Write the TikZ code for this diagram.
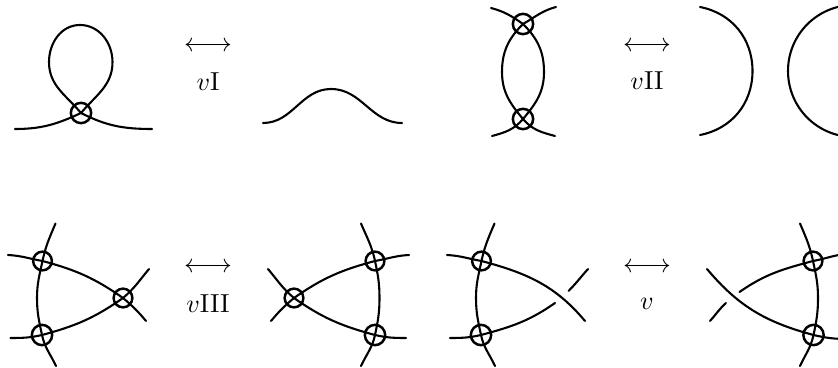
\documentclass[tikz,border=0pt]{standalone}
\tikzset{
    knot/.style={line width=0.8pt,line cap=round},
    vcross/.style={draw,circle,line width=0.95pt,inner sep=0pt,minimum size=7.2pt},
    vcrossbig/.style={vcross,minimum size=7.8pt}
}
\begin{document}
\begin{tikzpicture}[x=0.0135cm,y=-0.0135cm]
    \clip (0,0) rectangle (838,368);
    % top row
    \node [vcrossbig] (loop) at (81,113) {};
    \coordinate (l1) at (15,129);
    \coordinate (l2) at (112.5,62);
    \coordinate (l3) at (80,25);
    \coordinate (l4) at (49,62);
    \coordinate (l5) at (152,129);
    \draw [knot] (l1) to [out=0,in=205] (loop.center) to [out=50,in=-90] (l2) to [out=90,in=0] (l3)
        to [out=180,in=90] (l4) to [out=-90,in=130] (loop.center) to [out=-27,in=180] (l5);
    \coordinate (s1) at (263,123);
    \coordinate (s2) at (331,89);
    \coordinate (s3) at (402,123);
    \draw [knot] (s1) to [out=0,in=180] (s2) to [out=0,in=180] (s3);
    \node (arrowI) at (208,47) {$\longleftrightarrow$};
    \node (labelI) at (208,82) {$v\mathrm{I}$};
    \node [vcrossbig] (top) at (523,24) {};
    \node [vcrossbig] (bottom) at (523,119) {};
    \coordinate (t1) at (491,8);
    \coordinate (t2) at (544,72);
    \coordinate (t3) at (492,136);
    \coordinate (t4) at (556,7);
    \coordinate (t5) at (502,72);
    \coordinate (t6) at (555,136);
    \draw [knot] (t1) to [out=-15,in=145] (top.center) to [out=-45,in=90] (t2) to [out=-90,in=50] (bottom.center) to [out=230,in=15] (t3);
    \draw [knot] (t4) to [out=195,in=30] (top.center) to [out=225,in=90] (t5) to [out=-90,in=130] (bottom.center) to [out=-50,in=165] (t6);
    \node (arrowII) at (647,47) {$\longleftrightarrow$};
    \node (labelII) at (647,81) {$v\mathrm{II}$};
    \coordinate (r1) at (700,7);
    \coordinate (r2) at (752.5,71);
    \coordinate (r3) at (700,135);
    \coordinate (r4) at (854,5);
    \coordinate (r5) at (788,71);
    \coordinate (r6) at (854,137);
    \draw [knot] (r1) to [out=-11,in=90] (r2) to [out=-90,in=11] (r3);
    \draw [knot] (r4) to [out=180,in=90] (r5) to [out=-90,in=180] (r6);
    % bottom row
    \node [vcross] (a1) at (42.5,261) {};
    \node [vcrossbig] (b1) at (42,335) {};
    \node [vcross] (c1) at (123,298) {};
    \coordinate (e1) at (55.5,223.5);
    \coordinate (e2) at (37,298);
    \coordinate (e3) at (56,366);
    \coordinate (e4) at (8,255);
    \coordinate (e5) at (146,321);
    \coordinate (e6) at (10.5,338);
    \coordinate (e7) at (149,269);
    \draw [knot] (e1) to [out=247,in=78] (a1.center) to [out=258,in=90] (e2) to [out=-90,in=102] (b1.center) to [out=-78,in=115] (e3);
    \draw [knot] (e4) to [out=-3,in=170] (a1.center) to [out=-15,in=145] (c1.center) to [out=-40,in=130] (e5);
    \draw [knot] (e6) to [out=0,in=193] (b1.center) to [out=15,in=215] (c1.center) to [out=40,in=230] (e7);
    \node (arrowIII) at (208,268) {$\longleftrightarrow$};
    \node (labelIII) at (208,304) {$v\mathrm{III}$};
    \node [vcross] (c2) at (294,298) {};
    \node [vcross] (a2) at (375,261) {};
    \node [vcrossbig] (b2) at (375,335) {};
    \coordinate (f1) at (361,223.5);
    \coordinate (f2) at (379.5,298);
    \coordinate (f3) at (361,366);
    \coordinate (f4) at (409,255);
    \coordinate (f5) at (271,321);
    \coordinate (f6) at (406,338);
    \coordinate (f7) at (268,269);
    \draw [knot] (f1) to [out=-67,in=102] (a2.center) to [out=-78,in=90] (f2) to [out=-90,in=78] (b2.center) to [out=258,in=65] (f3);
    \draw [knot] (f4) to [out=183,in=10] (a2.center) to [out=195,in=35] (c2.center) to [out=220,in=50] (f5);
    \draw [knot] (f6) to [out=180,in=-13] (b2.center) to [out=165,in=-35] (c2.center) to [out=140,in=-50] (f7);
    \node [vcross] (a3) at (481.5,261) {};
    \node [vcrossbig] (b3) at (481,335) {};
    \coordinate (g1) at (494.5,223.5);
    \coordinate (g2) at (476,298);
    \coordinate (g3) at (495,366);
    \coordinate (g4) at (447,255);
    \coordinate (g5) at (585,321);
    \coordinate (g6) at (450,338);
    \coordinate (g7) at (555,303);
    \coordinate (g8) at (568.5,291);
    \coordinate (g9) at (588,269);
    \draw [knot] (g1) to [out=247,in=78] (a3.center) to [out=258,in=90] (g2) to [out=-90,in=102] (b3.center) to [out=-78,in=115] (g3);
    \draw [knot] (g4) to [out=-3,in=170] (a3.center) to [out=-15,in=130] (g5);
    \draw [knot] (g6) to [out=0,in=193] (b3.center) to [out=15,in=215] (g7);
    \draw [knot] (g8) to [out=45,in=228] (g9);
    \node (arrowv) at (647,268) {$\longleftrightarrow$};
    \node (labelv) at (647,304) {$v$};
    \node [vcross] (a4) at (813,261) {};
    \node [vcrossbig] (b4) at (813.5,335) {};
    \coordinate (h1) at (800,223.5);
    \coordinate (h2) at (818,298);
    \coordinate (h3) at (800,366);
    \coordinate (h4) at (848,254);
    \coordinate (h5) at (739.5,292);
    \coordinate (h6) at (726,303);
    \coordinate (h7) at (710,321);
    \coordinate (h8) at (848,339);
    \coordinate (h9) at (707,269);
    \draw [knot] (h1) to [out=-67,in=102] (a4.center) to [out=-78,in=90] (h2) to [out=-90,in=78] (b4.center) to [out=258,in=65] (h3);
    \draw [knot] (h4) to [out=183,in=10] (a4.center) to [out=195,in=35] (h5);
    \draw [knot] (h6) to [out=222,in=48] (h7);
    \draw [knot] (h8) to [out=180,in=-13] (b4.center) to [out=165,in=-50] (h9);
\end{tikzpicture}
\end{document}
